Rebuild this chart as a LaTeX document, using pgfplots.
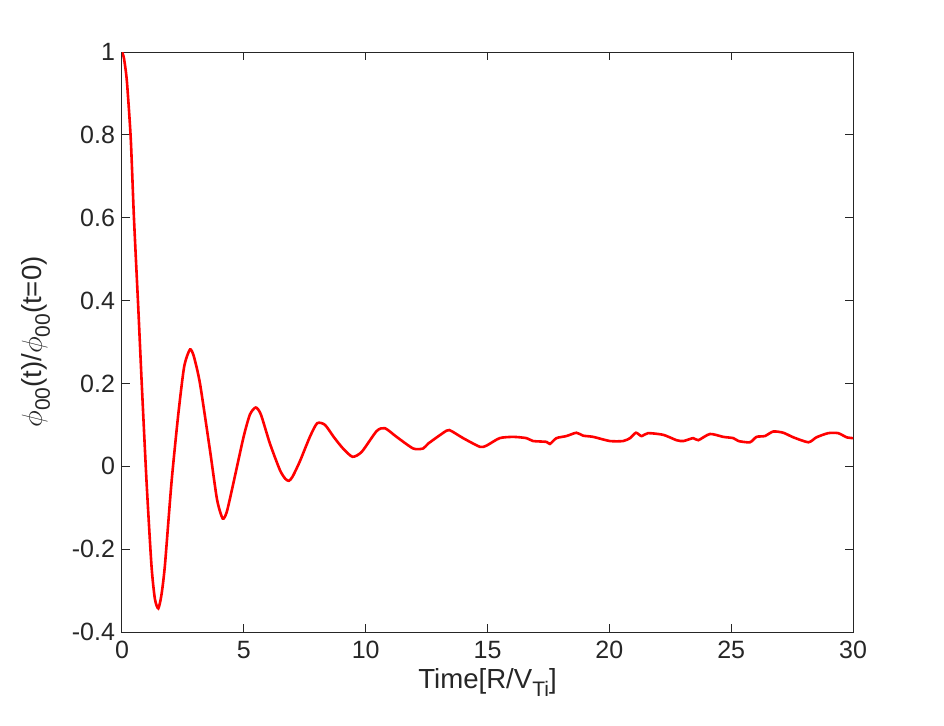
\documentclass[border=0pt]{standalone}
\usepackage{fontspec}
\setmainfont{Liberation Sans}
\usepackage{pgfplots}
\pgfplotsset{compat=1.18}
\definecolor{axgray}{RGB}{38,38,38}
\newcommand\sub[1]{\raisebox{-0.55ex}{\fontsize{10.5}{12}\selectfont #1}}
\begin{document}
\begin{tikzpicture}
\begin{axis}[
  name=ax,
  scale only axis,
  width=365.5pt, height=290pt,
  xmin=0, xmax=30, ymin=-0.4, ymax=1,
  xtick={0,5,...,30},
  ytick={-0.4,-0.2,0,0.2,0.4,0.6,0.8,1},
  tick align=inside,
  major tick length=4pt,
  axis line style={axgray, line width=0.5pt},
  every tick/.style={axgray, line width=0.5pt},
  /pgf/number format/assume math mode=true,
  ticklabel style={font=\fontsize{12.5}{15}\selectfont, text=axgray},
  label style={font=\fontsize{13.8}{16}\selectfont, text=axgray},
  xlabel={Time[R/V\sub{Ti}]},
  ylabel={$\phi$\sub{00}(t)/$\phi$\sub{00}(t=0)},
  xlabel style={yshift=2pt},
  ylabel style={yshift=4pt},
  xticklabel style={yshift=-1pt},
]
\addplot[red, line width=1.3pt, smooth, tension=0.4] coordinates {
(0,1) (0.08,0.985) (0.2,0.93) (0.36,0.79) (0.49,0.6) (0.67,0.38) (0.81,0.2)
(1.01,-0.04) (1.21,-0.24) (1.35,-0.32) (1.49,-0.343) (1.62,-0.31) (1.76,-0.24)
(2.03,-0.04) (2.3,0.12) (2.55,0.24) (2.79,0.282) (2.95,0.265) (3.2,0.2)
(3.61,0.039) (3.9,-0.08) (4.13,-0.126) (4.3,-0.11) (4.57,-0.041) (4.99,0.071)
(5.25,0.125) (5.49,0.142) (5.7,0.125) (6.07,0.055) (6.48,-0.009) (6.7,-0.03)
(6.85,-0.035) (7.0,-0.025) (7.3,0.012) (7.71,0.071) (8.01,0.104) (8.33,0.1)
(8.7,0.07) (9.07,0.043) (9.46,0.023) (9.84,0.035) (10.45,0.085) (10.79,0.092)
(11.27,0.071) (11.95,0.043) (12.36,0.043) (12.57,0.055) (13.32,0.086) (13.52,0.085)
(14.0,0.068) (14.69,0.047) (14.96,0.05) (15.5,0.068) (16.06,0.071) (16.6,0.068)
(16.87,0.061) (17.42,0.059) (17.56,0.054) (17.83,0.068) (18.24,0.073) (18.65,0.081)
(18.92,0.074) (19.34,0.071) (20.02,0.061) (20.57,0.061) (20.85,0.068) (21.09,0.081)
(21.32,0.073) (21.59,0.080) (22.21,0.076) (22.76,0.063) (23.04,0.061) (23.44,0.068)
(23.65,0.063) (24.13,0.078) (24.68,0.071) (25.09,0.068) (25.30,0.061) (25.77,0.058)
(26.04,0.071) (26.38,0.073) (26.73,0.084) (27.14,0.081) (27.55,0.070) (28.17,0.058)
(28.5,0.070) (28.98,0.080) (29.39,0.080) (29.74,0.070) (30,0.068)
};
\end{axis}
\pgfresetboundingbox
\path[use as bounding box] ([shift={(-61pt,-46.5pt)}]ax.south west) rectangle ([shift={(45.5pt,26pt)}]ax.north east);
\end{tikzpicture}
\end{document}
